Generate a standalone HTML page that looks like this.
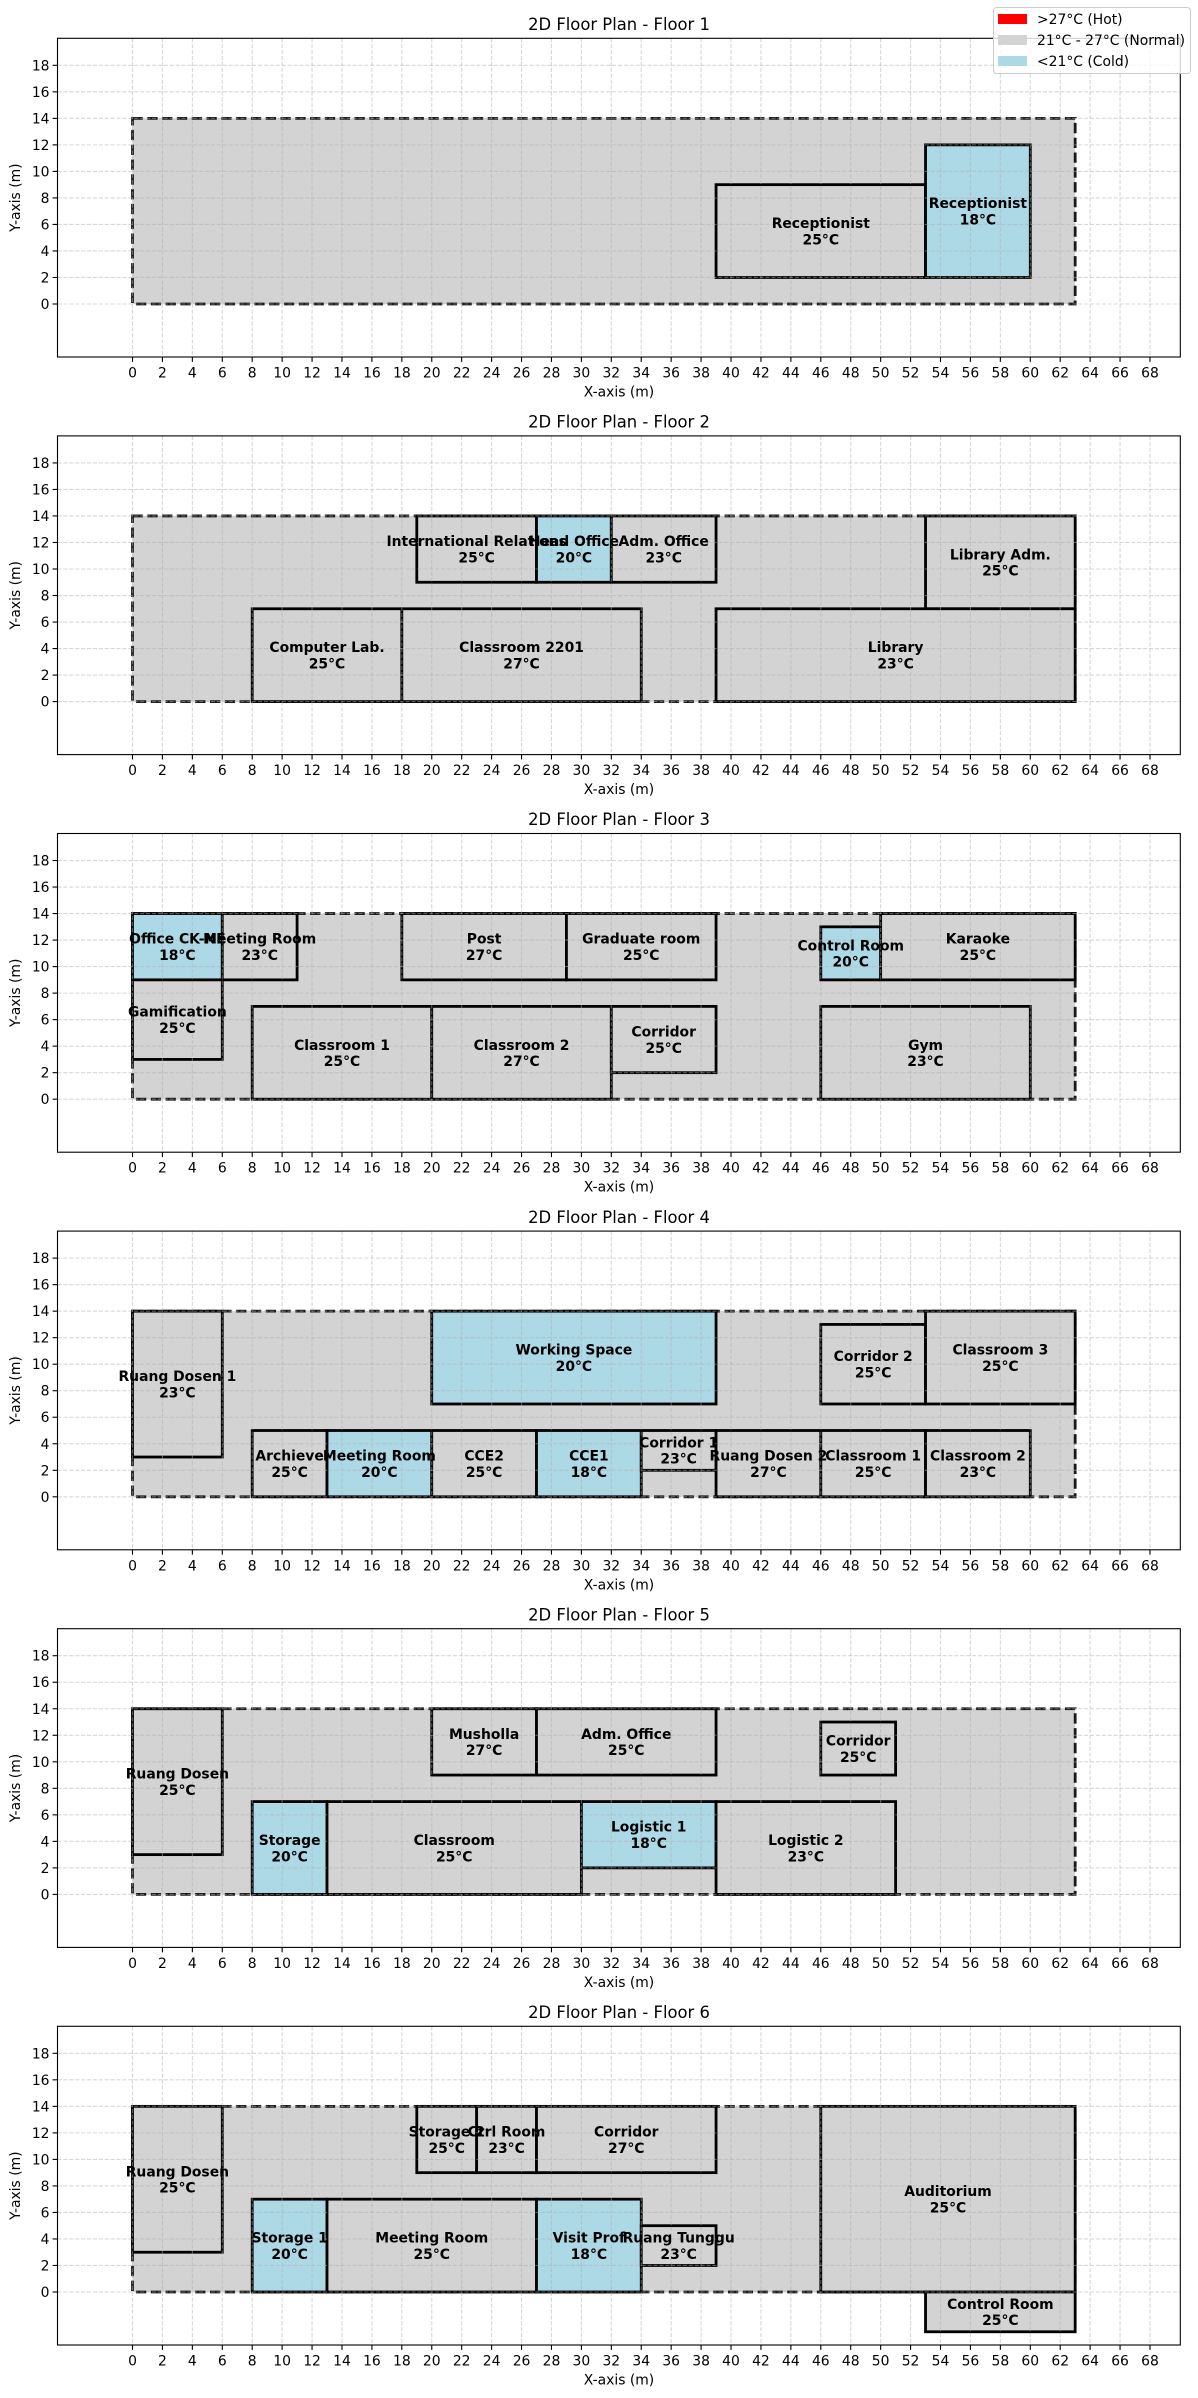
<!DOCTYPE html>
<html><head><meta charset="utf-8"><style>
html,body{margin:0;padding:0;background:#fff}
svg{display:block}
text{font-family:"DejaVu Sans","Liberation Sans",sans-serif}
</style></head><body>
<svg id="s" width="1198" height="2398" viewBox="0 0 1198 2398" xmlns="http://www.w3.org/2000/svg"></svg>
<script>
var floors=[
[["Receptionist",39,2,14,7,25],["Receptionist",53,2,7,10,18]],
[["International Relations",19,9,8,5,25],["Head Office",27,9,5,5,20],["Adm. Office",32,9,7,5,23],["Library Adm.",53,7,10,7,25],["Computer Lab.",8,0,10,7,25],["Classroom 2201",18,0,16,7,27],["Library",39,0,24,7,23]],
[["Office CK-NE",0,9,6,5,18],["Meeting Room",6,9,5,5,23],["Post",18,9,11,5,27],["Graduate room",29,9,10,5,25],["Control Room",46,9,4,4,20],["Karaoke",50,9,13,5,25],["Gamification",0,3,6,6,25],["Classroom 1",8,0,12,7,25],["Classroom 2",20,0,12,7,27],["Corridor",32,2,7,5,25],["Gym",46,0,14,7,23]],
[["Ruang Dosen 1",0,3,6,11,23],["Working Space",20,7,19,7,20],["Corridor 2",46,7,7,6,25],["Classroom 3",53,7,10,7,25],["Archieve",8,0,5,5,25],["Meeting Room",13,0,7,5,20],["CCE2",20,0,7,5,25],["CCE1",27,0,7,5,18],["Corridor 1",34,2,5,3,23],["Ruang Dosen 2",39,0,7,5,27],["Classroom 1",46,0,7,5,25],["Classroom 2",53,0,7,5,23]],
[["Ruang Dosen",0,3,6,11,25],["Musholla",20,9,7,5,27],["Adm. Office",27,9,12,5,25],["Corridor",46,9,5,4,25],["Storage",8,0,5,7,20],["Classroom",13,0,17,7,25],["Logistic 1",30,2,9,5,18],["Logistic 2",39,0,12,7,23]],
[["Ruang Dosen",0,3,6,11,25],["Storage 2",19,9,4,5,25],["Ctrl Room",23,9,4,5,23],["Corridor",27,9,12,5,27],["Auditorium",46,0,17,14,25],["Storage 1",8,0,5,7,20],["Meeting Room",13,0,14,7,25],["Visit Prof",27,0,7,7,18],["Ruang Tunggu",34,2,5,3,23],["Control Room",53,-3,10,3,25]]
];
var h='';var P=397.6;
for(var f=0;f<6;f++){
 var o=f*P;
 var X=function(x){return 132.5+14.963*x};
 var Y=function(y){return o+304-13.26*y};
 var L=57.5,R=1180.3,T=o+38.3,B=o+357;
 h+='<text x="619" y="'+(o+30)+'" font-size="16.4" text-anchor="middle">2D Floor Plan - Floor '+(f+1)+'</text>';
 h+='<rect x="'+X(0)+'" y="'+Y(14)+'" width="'+(X(63)-X(0))+'" height="'+(Y(0)-Y(14))+'" fill="#d3d3d3" stroke="#1a1a1a" stroke-width="2.8" stroke-dasharray="10.3,4.5"/>';
 var rs=floors[f];
 for(var i=0;i<rs.length;i++){var r=rs[i];
  var fill=r[5]>27?'#ff0000':(r[5]<21?'#add8e6':'#d3d3d3');
  h+='<rect x="'+X(r[1])+'" y="'+Y(r[2]+r[4])+'" width="'+(X(r[1]+r[3])-X(r[1]))+'" height="'+(Y(r[2])-Y(r[2]+r[4]))+'" fill="'+fill+'" stroke="#000" stroke-width="2.8"/>';
 }
 for(var k=0;k<=68;k+=2){h+='<line x1="'+X(k)+'" x2="'+X(k)+'" y1="'+T+'" y2="'+B+'" stroke="#b0b0b0" stroke-opacity="0.5" stroke-width="1.1" stroke-dasharray="4.1,1.8"/>';
  h+='<line x1="'+X(k)+'" x2="'+X(k)+'" y1="'+B+'" y2="'+(B+4.9)+'" stroke="#000" stroke-width="1.1"/>';
  h+='<text x="'+X(k)+'" y="'+(B+20.5)+'" font-size="13.9" text-anchor="middle">'+k+'</text>';}
 for(var k=0;k<=18;k+=2){h+='<line y1="'+Y(k)+'" y2="'+Y(k)+'" x1="'+L+'" x2="'+R+'" stroke="#b0b0b0" stroke-opacity="0.5" stroke-width="1.1" stroke-dasharray="4.1,1.8"/>';
  h+='<line y1="'+Y(k)+'" y2="'+Y(k)+'" x1="'+(L-4.9)+'" x2="'+L+'" stroke="#000" stroke-width="1.1"/>';
  h+='<text x="'+(L-8)+'" y="'+(Y(k)+5)+'" font-size="13.9" text-anchor="end">'+k+'</text>';}
 for(var i=0;i<rs.length;i++){var r=rs[i];var cx=X(r[1]+r[3]/2),cy=Y(r[2]+r[4]/2);
  h+='<text x="'+cx+'" y="'+(cy-3)+'" font-size="13.9" font-weight="bold" text-anchor="middle">'+r[0]+'</text>';
  h+='<text x="'+cx+'" y="'+(cy+13.3)+'" font-size="13.9" font-weight="bold" text-anchor="middle">'+r[5]+'°C</text>';}
 h+='<rect x="'+L+'" y="'+T+'" width="'+(R-L)+'" height="'+(B-T)+'" fill="none" stroke="#000" stroke-width="1.1"/>';
 h+='<text x="619" y="'+(B+39.5)+'" font-size="13.9" text-anchor="middle">X-axis (m)</text>';
 h+='<text transform="translate(20,'+((T+B)/2)+') rotate(-90)" font-size="13.9" text-anchor="middle">Y-axis (m)</text>';
}
h+='<rect x="993.5" y="7.5" width="197" height="66" rx="3" fill="#fff" fill-opacity="0.8" stroke="#ccc"/>';
var lg=[['#ff0000','>27°C (Hot)'],['#d3d3d3','21°C - 27°C (Normal)'],['#add8e6','<21°C (Cold)']];
for(var i=0;i<3;i++){var yy=14+i*21;
 h+='<rect x="998" y="'+yy+'" width="29" height="10" fill="'+lg[i][0]+'"/>';
 h+='<text x="1037" y="'+(yy+10)+'" font-size="13.9">'+lg[i][1].replace('<','&lt;').replace('>','&gt;')+'</text>';}
document.getElementById('s').innerHTML=h;
</script>
</body></html>
